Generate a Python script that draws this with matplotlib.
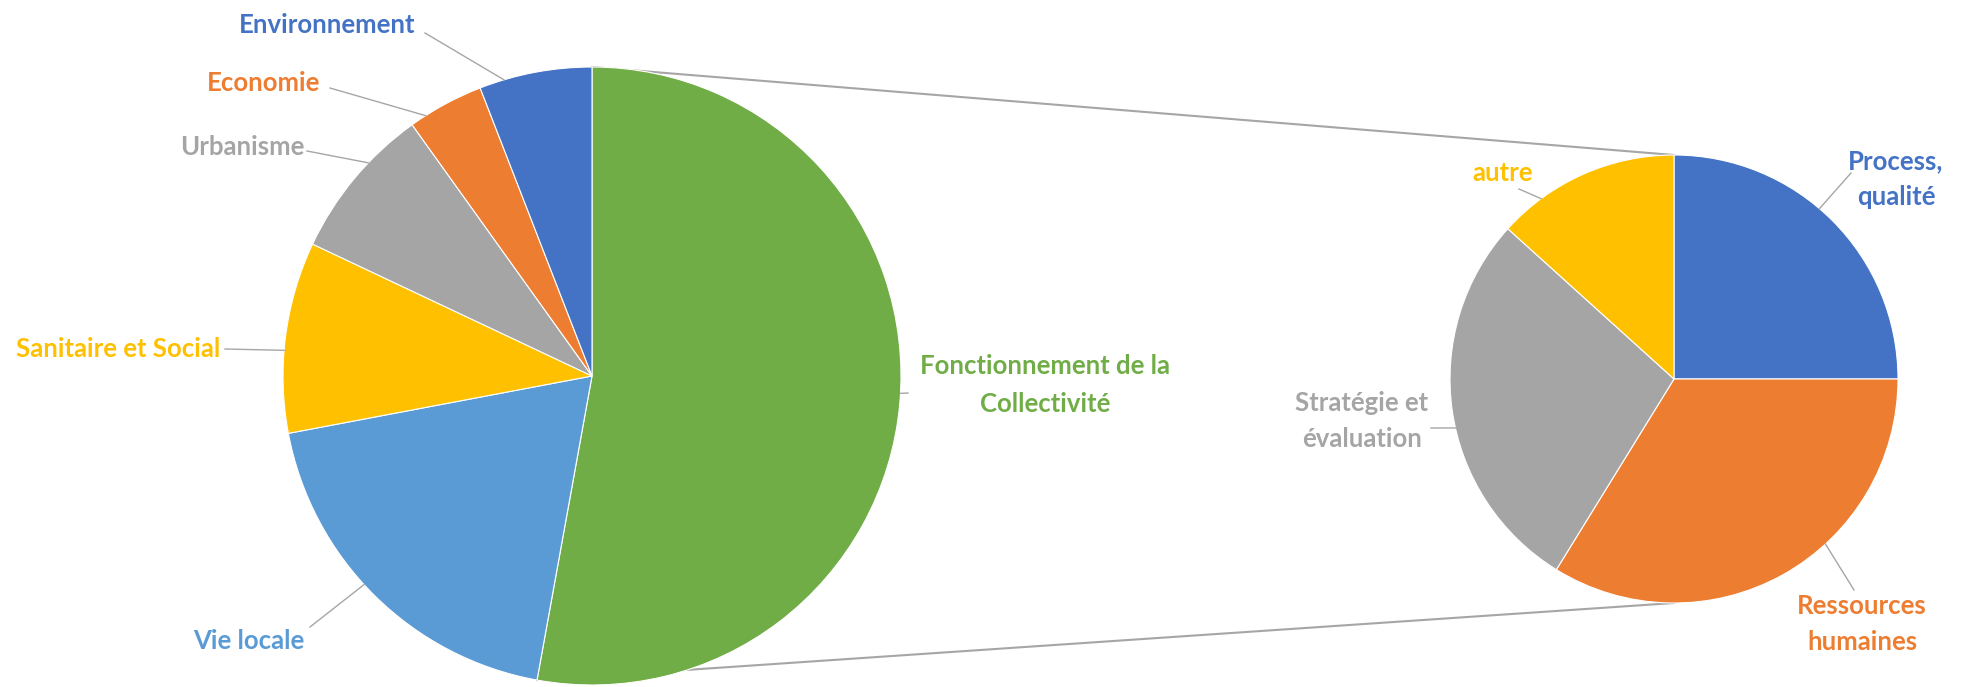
import numpy as np
import matplotlib
matplotlib.use("Agg")
import matplotlib.pyplot as plt

# ---------------- data ----------------
main_labels = ["Fonctionnement de la\nCollectivité", "Vie locale", "Sanitaire et Social",
               "Urbanisme", "Economie", "Environnement"]
main_values = [52.9, 19.2, 10.0, 8.1, 4.0, 5.9]
main_colors = ["#70AD47", "#5B9BD5", "#FFC000", "#A5A5A5", "#ED7D31", "#4472C4"]

sub_labels = ["Process,\nqualité", "Ressources\nhumaines", "Stratégie et\névaluation", "autre"]
sub_values = [25.0, 33.8, 27.9, 13.3]
sub_colors = ["#4472C4", "#ED7D31", "#A5A5A5", "#FFC000"]

# ---------------- layout (pixel coords, y from top) ----------------
W, H = 1962, 687
main_center = (592, 376); main_r = 309
sub_center = (1674, 379); sub_r = 224

# label text center, leader start point (label side), anchor fraction (clockwise) within slice
main_label_pos = [(1045, 385), (249, 641), (118, 349), (242, 147), (264, 83), (327, 25)]
main_leader_start = [(908, 393), (310, 627), (225, 349), (307, 151), (330, 88), (425, 33)]
main_anchor_frac = [0.49, 0.54, 0.43, 0.63, 0.21, 0.22]
main_linespacing = [1.65, 1.2, 1.2, 1.2, 1.2, 1.2]

sub_label_pos = [(1896, 179), (1862, 624), (1362, 421), (1503, 173)]
sub_leader_start = [(1851, 173), (1854, 590), (1431, 428), (1519, 189)]
sub_anchor_frac = [0.45, 0.39, 0.455, 0.24]
sub_linespacing = [1.57, 1.57, 1.57, 1.2]

FONT = ["Lato", "DejaVu Sans"]
FS = 18.5
LEADER = "#A6A6A6"

def fy(y):
    return H - y

fig = plt.figure(figsize=(W / 100, H / 100), dpi=100)
ax = fig.add_axes([0, 0, 1, 1])

wm, _ = ax.pie(main_values, colors=main_colors, startangle=90, counterclock=False,
               center=(main_center[0], fy(main_center[1])), radius=main_r,
               wedgeprops=dict(edgecolor="white", linewidth=0.8))
ws, _ = ax.pie(sub_values, colors=sub_colors, startangle=90, counterclock=False,
               center=(sub_center[0], fy(sub_center[1])), radius=sub_r,
               wedgeprops=dict(edgecolor="white", linewidth=0.8))

ax.set_xlim(0, W)
ax.set_ylim(0, H)
ax.set_aspect("equal")
ax.axis("off")


def edge_at(w, deg):
    a = np.deg2rad(deg)
    cx, cy = w.center
    return cx + w.r * np.cos(a), cy + w.r * np.sin(a)


def edge_point(w, frac):
    # clockwise pie: slice starts at theta2 and runs down to theta1
    return edge_at(w, w.theta2 - frac * (w.theta2 - w.theta1))


# connector lines between green slice and second pie
g = wm[0]
p_top = edge_at(g, g.theta2)   # start of green slice (top)
p_bot = edge_at(g, g.theta1)   # end of green slice
s_cx, s_cy = ws[0].center
ax.plot([p_top[0], s_cx], [p_top[1], s_cy + sub_r], color=LEADER, lw=1.5, zorder=0)
ax.plot([p_bot[0], s_cx], [p_bot[1], s_cy - sub_r], color=LEADER, lw=1.5, zorder=0)


def draw_labels(wedges, labels, colors, pos, starts, fracs, spacings):
    for w, lab, col, p, s, f, ls in zip(wedges, labels, colors, pos, starts, fracs, spacings):
        e = edge_point(w, f)
        ax.plot([s[0], e[0]], [fy(s[1]), e[1]], color=LEADER, lw=1.0, zorder=1)
        ax.text(p[0], fy(p[1]), lab, color=col, ha="center", va="center",
                fontsize=FS, fontweight="bold", family=FONT, linespacing=ls,
                multialignment="center")


draw_labels(wm, main_labels, main_colors, main_label_pos, main_leader_start,
            main_anchor_frac, main_linespacing)
draw_labels(ws, sub_labels, sub_colors, sub_label_pos, sub_leader_start,
            sub_anchor_frac, sub_linespacing)

fig.savefig("out.png", dpi=100, facecolor="white")
